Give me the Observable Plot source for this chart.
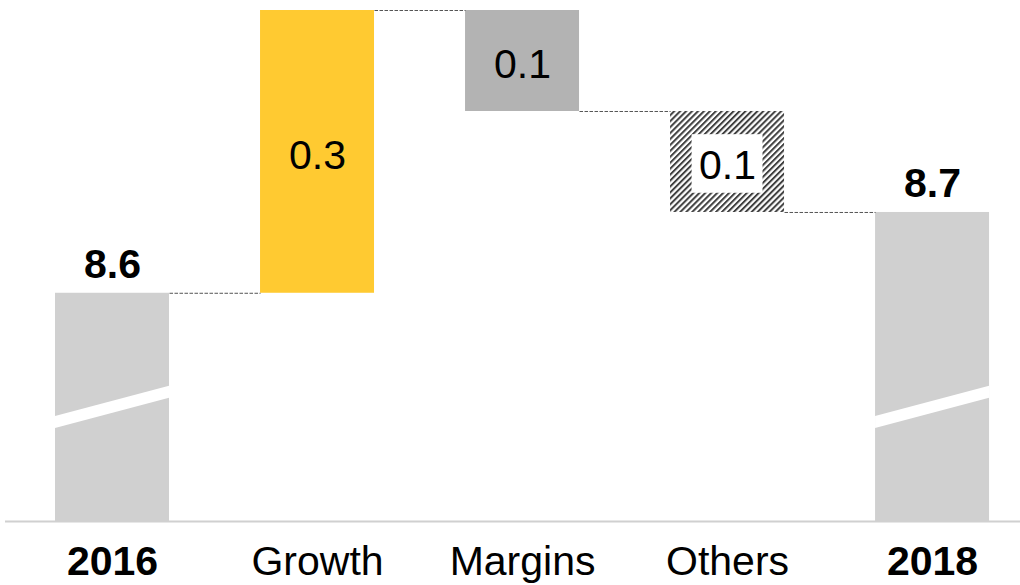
<!DOCTYPE html>
<html><head><meta charset="utf-8">
<script src="https://cdn.jsdelivr.net/npm/d3@7"></script>
<script src="https://cdn.jsdelivr.net/npm/@observablehq/plot@0.6"></script>
<style>html,body{margin:0;padding:0;background:#fff;} svg{display:block;}</style>
</head><body><div id="chart"></div>
<script>
// ---- data ----
const categories = ["2016", "Growth", "Margins", "Others", "2018"];
const values = [8.60, 0.28, -0.10, -0.10, 8.68];
const kinds = ["total", "up", "down", "other", "total"];
const yFloor = 8.374;          // value at the (broken) baseline
const yTop = 8.88;
const breakCenters = [8.472, 8.502]; // axis-break stripe: left / right centre
const breakGap = 0.012;

const colors = {total: "#d0d0d0", up: "#ffca31", down: "#b3b3b3", other: "url(#hatch)"};

let running = 0;
const bars = categories.map((c, i) => {
  const v = values[i];
  let start, end;
  if (kinds[i] === "total") { start = yFloor; end = v; }
  else { start = running; end = running + v; }
  running = end;
  return {i, category: c, kind: kinds[i], value: v, start, end, mid: (start + end) / 2,
          label: d3.format(".1f")(Math.abs(v)), fill: colors[kinds[i]]};
});
const totals = bars.filter(b => b.kind === "total");
const steps = bars.filter(b => b.kind !== "total");
const hatched = bars.filter(b => b.kind === "other");
const hw = 0.278;
const connectors = bars.slice(0, -1).map(b => ({x1: b.i + hw, x2: b.i + 1 - hw, level: b.end}));
const breaks = totals.flatMap(b => [
  {z: b.i, x: b.i - hw, y1: breakCenters[0] - breakGap / 2, y2: breakCenters[0] + breakGap / 2},
  {z: b.i, x: b.i + hw, y1: breakCenters[1] - breakGap / 2, y2: breakCenters[1] + breakGap / 2}
]);

const chart = Plot.plot({
  width: 1020, height: 585,
  marginTop: 10, marginBottom: 64, marginLeft: 5, marginRight: 0,
  x: {domain: [-0.522, 4.429], axis: null},
  y: {domain: [yFloor, yTop], axis: null},
  style: {fontFamily: "'Liberation Sans', Arial, sans-serif", background: "white", color: "black"},
  marks: [
    Plot.rectY(bars, {x1: d => d.i - hw, x2: d => d.i + hw, y1: "start", y2: "end", fill: "fill"}),
    Plot.areaY(breaks, {x: "x", y1: "y1", y2: "y2", z: "z", fill: "white"}),
    Plot.link(connectors, {x1: "x1", x2: "x2", y1: "level", y2: "level", stroke: "#555", strokeWidth: 1, strokeDasharray: "3.5,1.5"}),
    Plot.ruleY([yFloor], {stroke: "#d0d0d0", strokeWidth: 2}),
    Plot.rect(hatched, {x1: d => d.i - 0.173, x2: d => d.i + 0.173, y1: d => d.mid - 0.029, y2: d => d.mid + 0.029, fill: "white", dy: 2}),
    Plot.text(steps, {x: "i", y: "mid", text: "label", fontSize: 41, lineAnchor: "middle", dy: 3.5, fill: "black"}),
    Plot.text(totals, {x: "i", y: "end", text: "label", fontSize: 41, fontWeight: "bold", lineAnchor: "bottom", dy: -15, fill: "black"}),
    Plot.text(totals, {x: "i", text: "category", frameAnchor: "bottom", lineAnchor: "top", dy: 24, fontSize: 41, fontWeight: "bold", fill: "black"}),
    Plot.text(steps, {x: "i", text: "category", frameAnchor: "bottom", lineAnchor: "top", dy: 24, fontSize: 41, fill: "black"})
  ]
});
chart.insertAdjacentHTML("afterbegin",
  '<defs><pattern id="hatch" patternUnits="userSpaceOnUse" width="4.2" height="4.2" patternTransform="rotate(45)">' +
  '<rect width="4.2" height="4.2" fill="#fff"/><rect width="2" height="4.2" fill="#404040"/></pattern></defs>');
document.getElementById("chart").appendChild(chart);
</script>
</body></html>
